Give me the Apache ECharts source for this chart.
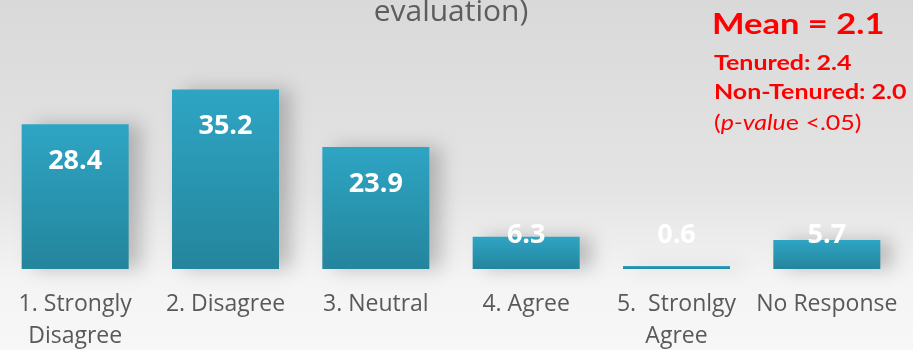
<!DOCTYPE html>
<html>
<head>
<meta charset="utf-8">
<script src="https://cdn.jsdelivr.net/npm/echarts@6/dist/echarts.min.js"></script>
<style>
  html, body { margin: 0; padding: 0; }
  #chart { width: 913px; height: 350px; }
</style>
</head>
<body>
<div id="chart"></div>
<script>
// Response categories and percentage of respondents
const categories = ['1. Strongly\nDisagree', '2. Disagree', '3. Neutral', '4. Agree', '5.  Stronlgy\nAgree', 'No Response'];
const percents = [28.4, 35.2, 23.9, 6.3, 0.6, 5.7];

// Summary statistics shown at the upper right
const meanText = 'Mean = 2.1';
const tenuredText = 'Tenured: 2.4';
const nonTenuredText = 'Non-Tenured: 2.0';
const titleText = 'evaluation)';

// Value labels sit a little below the bar top, but never lower than a floor near the baseline
const labelDrop = 7.2;
const labelFloor = 6.65;
const labelPositions = percents.map(v => Math.max(v - labelDrop, labelFloor));

const chart = echarts.init(document.getElementById('chart'), null, { renderer: 'canvas' });

const font = '"Open Sans", "Noto Sans", sans-serif';
const noteFont = 'Lato, "Open Sans", sans-serif';
const red = '#ff0000';
const noteScale = 1.19;

chart.setOption({
  backgroundColor: new echarts.graphic.LinearGradient(0, 0, 0, 1, [
    { offset: 0, color: '#d9d9d9' },
    { offset: 0.55, color: '#e4e4e4' },
    { offset: 0.8, color: '#f4f4f4' },
    { offset: 1, color: '#f7f7f7' }
  ]),
  animation: false,
  grid: { left: 0, right: 11, top: 65, bottom: 81, containLabel: false, outerBoundsMode: 'none' },
  xAxis: {
    type: 'category',
    data: categories,
    axisLine: { show: false },
    axisTick: { show: false },
    axisLabel: {
      interval: 0,
      margin: 19,
      fontFamily: font,
      fontSize: 23,
      lineHeight: 32,
      color: '#595959'
    }
  },
  yAxis: {
    type: 'value',
    min: 0,
    max: 40,
    show: false
  },
  series: [
    {
      type: 'bar',
      data: percents,
      barWidth: 107,
      itemStyle: {
        color: new echarts.graphic.LinearGradient(0, 0, 0, 1, [
          { offset: 0, color: '#2ea5c4' },
          { offset: 1, color: '#24859c' }
        ]),
        shadowColor: 'rgba(0,0,0,0.22)',
        shadowBlur: 18,
        shadowOffsetX: 12,
        shadowOffsetY: 0
      }
    },
    {
      type: 'scatter',
      data: labelPositions,
      symbolSize: 0,
      silent: true,
      itemStyle: { opacity: 1 },
      label: {
        show: true,
        position: 'inside',
        formatter: p => percents[p.dataIndex].toFixed(1),
        fontFamily: font,
        fontWeight: 'bold',
        fontSize: 27,
        color: '#ffffff'
      }
    }
  ],
  graphic: [
    {
      type: 'text',
      x: 451,
      y: 27,
      style: {
        text: titleText,
        fontFamily: font,
        fontSize: 30,
        fill: '#5d5d5d',
        textAlign: 'center',
        textVerticalAlign: 'bottom'
      }
    },
    {
      type: 'text',
      x: 712,
      y: 10,
      scaleX: noteScale,
      style: {
        text: meanText,
        fontFamily: noteFont,
        fontWeight: 'bold',
        fontSize: 29,
        fill: red
      }
    },
    {
      type: 'text',
      x: 714,
      y: 53,
      scaleX: noteScale,
      style: {
        text: tenuredText,
        fontFamily: noteFont,
        fontWeight: 'bold',
        fontSize: 21,
        fill: red
      }
    },
    {
      type: 'text',
      x: 714,
      y: 82,
      scaleX: noteScale,
      style: {
        text: nonTenuredText,
        fontFamily: noteFont,
        fontWeight: 'bold',
        fontSize: 21,
        fill: red
      }
    },
    {
      type: 'text',
      x: 714,
      y: 113,
      scaleX: noteScale,
      style: {
        text: '{n|(}{i|p-valu}{n|e <.05)}',
        rich: {
          n: { fontFamily: noteFont, fontSize: 21, fill: red, color: red },
          i: { fontFamily: noteFont, fontSize: 21, fontStyle: 'italic', fill: red, color: red }
        }
      }
    }
  ]
});
</script>
</body>
</html>
